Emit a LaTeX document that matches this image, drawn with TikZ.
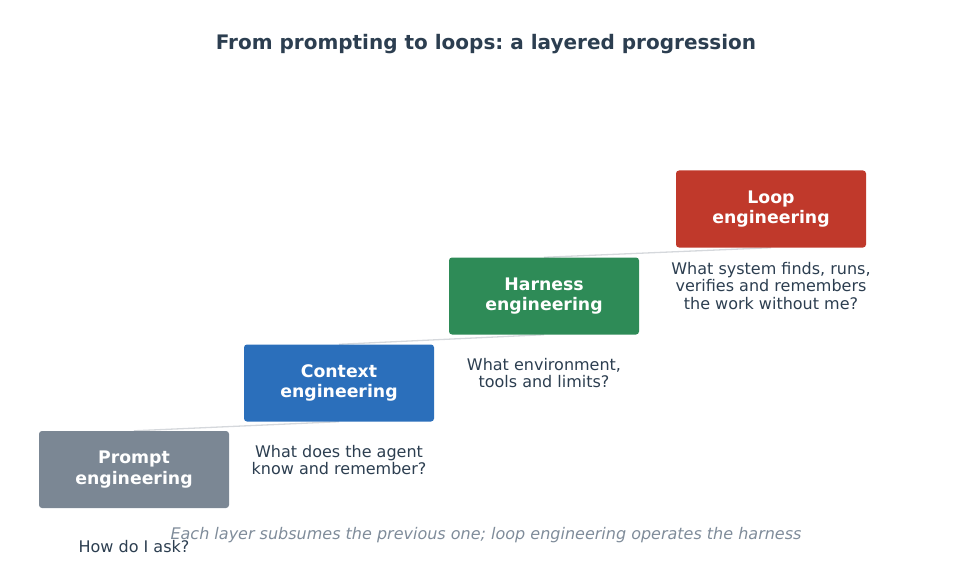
\documentclass[tikz,border=0pt]{standalone}
\usepackage{fontspec}
\setmainfont{DejaVu Sans}
\usepackage{xcolor}
\usetikzlibrary{positioning,backgrounds}
\frenchspacing

\definecolor{inkdark}{HTML}{2C3E50}
\definecolor{notegray}{HTML}{7F8C9A}
\definecolor{promptgray}{HTML}{7B8794}
\definecolor{contextblue}{HTML}{2B6FBB}
\definecolor{harnessgreen}{HTML}{2E8B57}
\definecolor{loopred}{HTML}{C0392B}
\definecolor{stairline}{HTML}{D5D8DC}

\begin{document}
\begin{tikzpicture}[
  x=1pt, y=1pt,
  layer/.style={rounded corners=3pt, minimum width=190pt, minimum height=77pt,
    align=center, text=white, font=\fontsize{17.3}{20.5}\selectfont\bfseries},
  desc/.style={align=center, text=inkdark, font=\fontsize{16}{17.6}\selectfont},
  stair/.style={stairline, line width=1.3pt},
]
\useasboundingbox (0,0) rectangle (971,566);

% Title
\node[text=inkdark, font=\fontsize{20}{24}\selectfont\bfseries] (title) at (486,522) {From prompting to loops: a layered progression};

% Layers
\node[layer, fill=promptgray] (prompt) at (134,96.5) {Prompt\\engineering};
\node[layer, fill=contextblue] (context) at (339,183) {Context\\engineering};
\node[layer, fill=harnessgreen] (harness) at (544,270) {Harness\\engineering};
\node[layer, fill=loopred] (loop) at (771,357) {Loop\\engineering};

% Stair links behind the boxes
\begin{scope}[on background layer]
\draw[stair] (prompt.north) -- (context.south);
\draw[stair] (context.north) -- (harness.south);
\draw[stair] (harness.north) -- (loop.south);
\end{scope}

% Questions
\node[desc] (qprompt) at ([yshift=-77pt]prompt.center) {How do I ask?};
\node[desc] (qcontext) at ([yshift=-77pt]context.center) {What does the agent\\know and remember?};
\node[desc] (qharness) at ([yshift=-77pt]harness.center) {What environment,\\tools and limits?};
\node[desc] (qloop) at ([yshift=-77pt]loop.center) {What system finds, runs,\\verifies and remembers\\the work without me?};

% Footnote
\node[text=notegray, font=\fontsize{16}{18}\selectfont\itshape] (note) at (486,31) {Each layer subsumes the previous one; loop engineering operates the harness};

\end{tikzpicture}
\end{document}
